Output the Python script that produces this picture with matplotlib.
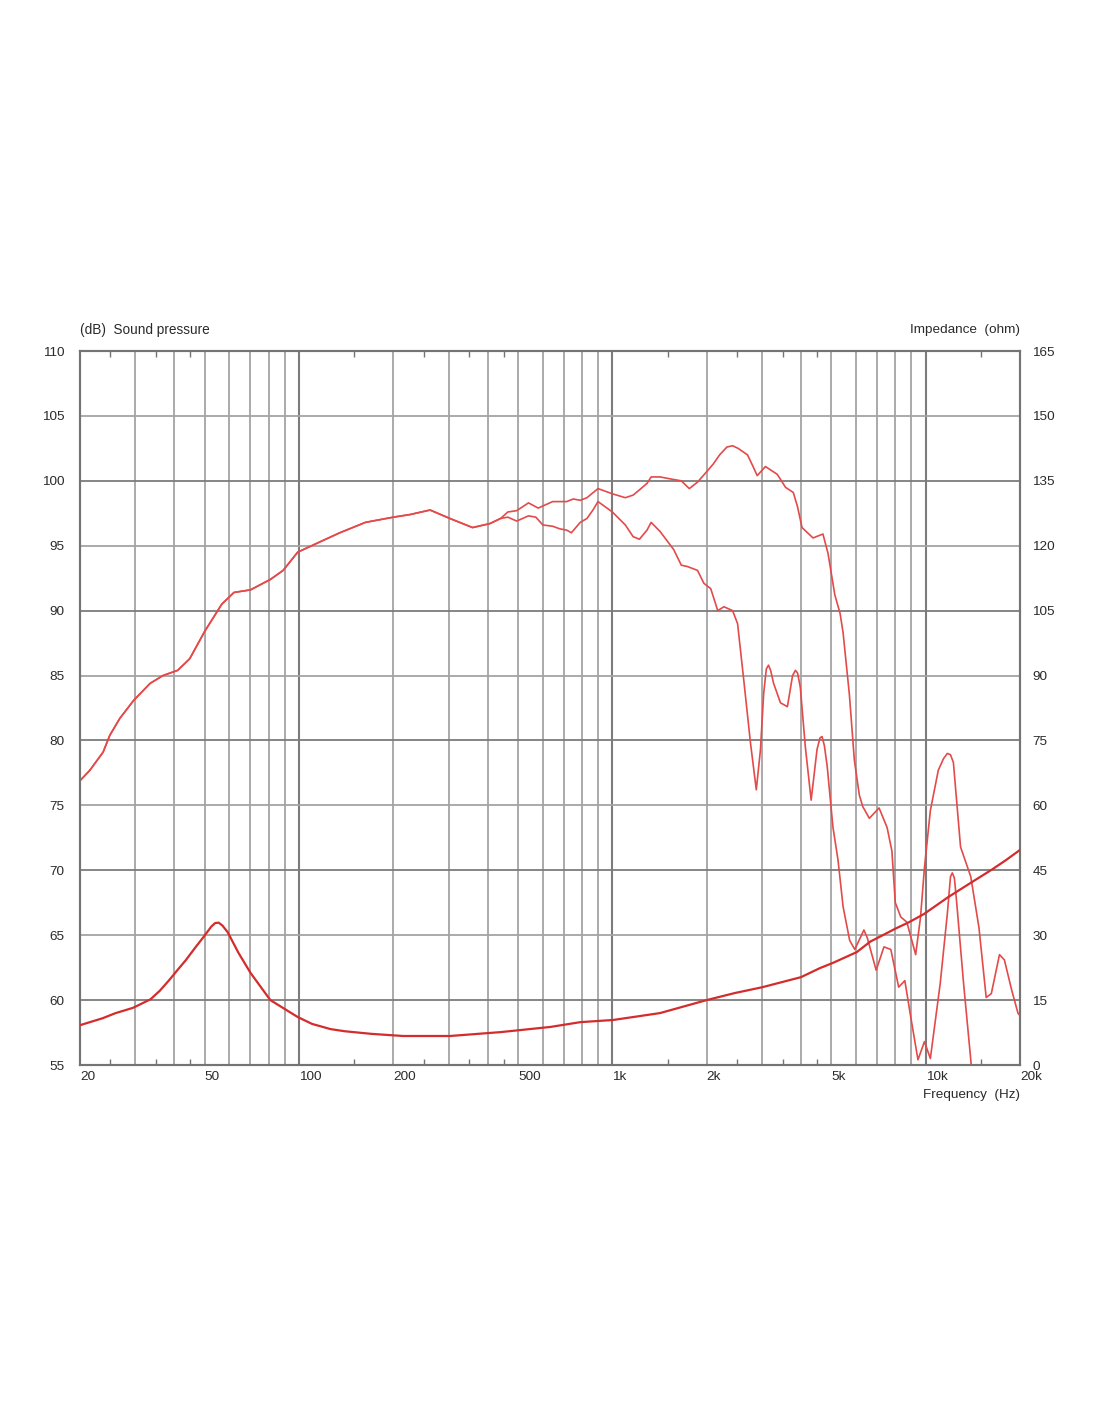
import matplotlib
matplotlib.use('Agg')
import matplotlib.pyplot as plt
from matplotlib.ticker import FixedLocator, NullFormatter

plt.rcParams['font.family'] = ['Liberation Sans', 'DejaVu Sans']

# Sound pressure, on axis (dB)
spl_f = [20, 21.5, 23.7, 24.9, 26.8, 29.7, 33.5, 36.8, 41, 44.8, 50, 56.7, 62, 70,
         81, 89, 99, 112, 135, 163, 200, 226, 262, 303, 358, 406, 440, 464, 495,
         540, 580, 645, 715, 750, 790, 830, 900, 1000, 1100, 1165, 1220, 1290, 1330,
         1420, 1570, 1660, 1760, 1870, 2000, 2100, 2200, 2320, 2420, 2520, 2700, 2800,
         2900, 3080, 3360, 3570, 3780, 3900, 4030, 4370, 4700, 4880, 5130, 5330,
         5450, 5710, 5920, 6140, 6300, 6610, 7100, 7530, 7800, 8000, 8330, 8710,
         9290, 9630, 9910, 10350, 10970, 11400, 11730, 12000, 12260, 12920, 13930,
         14790, 15600, 16200, 17200, 17830, 18800, 19700, 20000]
spl_db = [76.9, 77.7, 79.1, 80.4, 81.7, 83.1, 84.4, 85.0, 85.4, 86.3, 88.4, 90.5, 91.4, 91.6,
          92.4, 93.1, 94.5, 95.1, 96.0, 96.8, 97.2, 97.4, 97.75, 97.1, 96.4, 96.7, 97.1, 97.6, 97.7,
          98.3, 97.9, 98.4, 98.4, 98.6, 98.5, 98.7, 99.4, 99.0, 98.7, 98.9, 99.3, 99.8, 100.3,
          100.3, 100.1, 100.0, 99.4, 99.9, 100.7, 101.3, 102.0, 102.6, 102.7, 102.5, 102.0, 101.2,
          100.4, 101.1, 100.5, 99.5, 99.1, 98.0, 96.4, 95.6, 95.9, 94.4, 91.2, 89.8,
          88.3, 83.5, 78.5, 75.8, 74.9, 74.0, 74.8, 73.3, 71.5, 67.5, 66.4, 66.0,
          63.5, 66.4, 70.2, 74.6, 77.7, 78.6, 79.0, 78.9, 78.3, 71.8, 69.5,
          65.6, 60.2, 60.5, 63.5, 63.1, 60.8, 59.0, 58.8]

# Sound pressure, off axis (dB) - shares the on-axis curve below 400 Hz
off_f = [406, 440, 464, 495, 540, 570, 600, 645, 680, 715, 740, 790, 830, 870, 900,
         1000, 1100, 1165, 1220, 1290, 1330, 1420, 1570, 1660, 1735, 1870, 1960, 2060,
         2170, 2270, 2420, 2510, 2620, 2760, 2880, 2970, 3040, 3100, 3150, 3200, 3270,
         3440, 3620, 3760, 3840, 3900, 3980, 4130, 4310, 4500, 4600, 4670, 4750, 4850,
         5060, 5250, 5450, 5720, 5940, 6350, 6510, 6950, 7360, 7740, 8200, 8580, 8960,
         9450, 9910, 10350, 11130, 11730, 12000, 12160, 12350, 12540, 13210, 13930, 14500]
off_db = [96.7, 97.1, 97.2, 96.9, 97.3, 97.2, 96.6, 96.5, 96.3, 96.2, 96.0, 96.8, 97.1, 97.8, 98.4,
          97.6, 96.6, 95.7, 95.5, 96.2, 96.8, 96.1, 94.7, 93.5, 93.4, 93.1, 92.1, 91.7,
          90.0, 90.3, 90.0, 89.0, 84.9, 79.8, 76.2, 79.3, 83.6, 85.5, 85.8, 85.4, 84.4,
          82.9, 82.6, 85.0, 85.4, 85.2, 84.1, 79.5, 75.4, 79.3, 80.2, 80.3, 79.6, 78.0,
          73.3, 70.8, 67.2, 64.6, 63.9, 65.4, 64.8, 62.3, 64.1, 63.9, 61.0, 61.5, 58.7,
          55.4, 56.8, 55.5, 61.3, 66.7, 69.5, 69.8, 69.4, 67.7, 61.3, 55.4, 50.0]

# Impedance (ohm)
imp_f = [20, 23.6, 26, 29.5, 31.5, 33.6, 36, 38.5, 41, 43.6, 46.5, 49.6, 52.5, 54, 55.4,
         57, 59.2, 64, 70, 81, 99, 110, 126, 140, 170, 215, 303, 440, 635, 790, 1005,
         1420, 2000, 2450, 3020, 4000, 4600, 5060, 6030, 6650, 7300, 8000, 8850,
         9880, 11800, 14000, 16300, 18000, 20000]
imp_ohm = [9.2, 10.8, 12.0, 13.2, 14.2, 15.2, 17.2, 19.6, 22.0, 24.3, 27.0, 29.6, 32.0, 32.8, 32.9,
           32.2, 30.7, 26.0, 21.3, 15.0, 11.1, 9.5, 8.3, 7.8, 7.2, 6.7, 6.7, 7.6, 8.8, 9.9, 10.4,
           12.0, 15.0, 16.6, 18.0, 20.3, 22.4, 23.6, 26.1, 28.5, 30.0, 31.5, 33.0,
           34.9, 38.8, 42.2, 45.2, 47.3, 49.7]

x_labels = ['20', '50', '100', '200', '500', '1k', '2k', '5k', '10k', '20k']
x_label_pos = [20, 50, 100, 200, 500, 1000, 2000, 5000, 10000, 20000]
db_ticks = list(range(55, 111, 5))
ohm_ticks = list(range(0, 166, 15))

GRID_F = [30, 40, 50, 60, 70, 80, 90, 200, 300, 400, 500, 600, 700, 800, 900,
          2000, 3000, 4000, 5000, 6000, 7000, 8000, 9000]
GRID_F_MAJOR = [100, 1000, 10000]
SMALL_TICKS = [25, 35, 45, 150, 250, 350, 450, 1500, 2500, 3500, 4500, 15000]

TXT = '#2a2a2a'
RED = '#e34a4a'
RED_IMP = '#d42c2c'

fig = plt.figure(figsize=(11, 14.22), dpi=100)
ax = fig.add_axes([80 / 1100, 1 - 1065 / 1422, 940 / 1100, 714 / 1422])

ax.set_xscale('log')
ax.set_xlim(20, 20000)
ax.set_ylim(55, 110)

for f in GRID_F:
    ax.axvline(f, color='#a4a4a4', lw=1.3, zorder=1)
for f in GRID_F_MAJOR:
    ax.axvline(f, color='#7c7c7c', lw=1.5, zorder=1)
for v in db_ticks:
    c = '#7c7c7c' if v % 10 == 0 else '#a4a4a4'
    ax.axhline(v, color=c, lw=1.3, zorder=1)

ax.plot(spl_f, spl_db, color=RED, lw=1.2, zorder=3)
low_f = [f for f in spl_f if f < 406] + off_f
low_db = [d for f, d in zip(spl_f, spl_db) if f < 406] + off_db
ax.plot(low_f, low_db, color=RED, lw=1.2, zorder=3)

ax2 = ax.twinx()
ax2.set_ylim(0, 165)
ax2.plot(imp_f, imp_ohm, color=RED_IMP, lw=1.6, zorder=3)

for a in (ax, ax2):
    for s in a.spines.values():
        s.set_color('#747474')
        s.set_linewidth(1.5)

ax.xaxis.set_major_locator(FixedLocator(x_label_pos))
ax.set_xticklabels(x_labels)
ax.xaxis.set_minor_locator(FixedLocator(SMALL_TICKS))
ax.xaxis.set_minor_formatter(NullFormatter())
ax.tick_params(axis='x', which='major', length=0, pad=4, labelsize=9.7, labelcolor=TXT)
ax.tick_params(axis='x', which='minor', direction='in', length=4, width=1,
               color='#747474', top=True, bottom=True)
for lab in ax.get_xticklabels():
    lab.set_ha('left')

ax.set_yticks(db_ticks)
ax.tick_params(axis='y', length=0, pad=11, labelsize=9.7, labelcolor=TXT)
ax2.set_yticks(ohm_ticks)
ax2.tick_params(axis='y', length=0, pad=9, labelsize=9.7, labelcolor=TXT)

fig.text(80 / 1100, 1 - 330 / 1422, '(dB)  Sound pressure', ha='left', va='center',
         fontsize=9.8, color=TXT)
fig.text(1020 / 1100, 1 - 330 / 1422, 'Impedance  (ohm)', ha='right', va='center',
         fontsize=9.7, color=TXT)
fig.text(1020 / 1100, 1 - 1095 / 1422, 'Frequency  (Hz)', ha='right', va='center',
         fontsize=9.7, color=TXT)

fig.savefig('out.png', dpi=100, facecolor='white')
